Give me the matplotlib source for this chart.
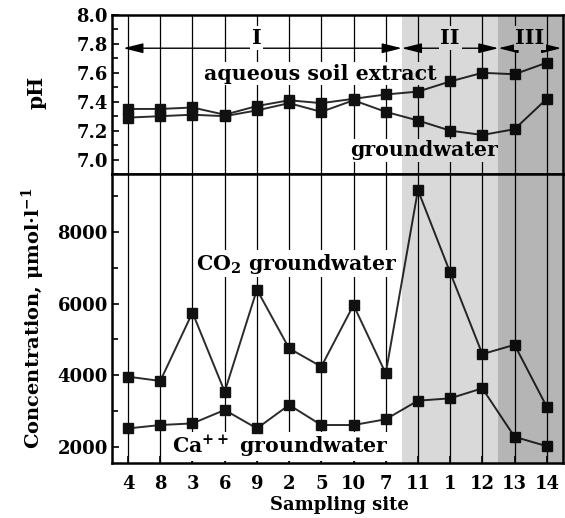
import matplotlib
matplotlib.use("Agg")
import matplotlib.pyplot as plt
import numpy as np

# Data
sites = ["4", "8", "3", "6", "9", "2", "5", "10", "7", "11", "1", "12", "13", "14"]
ph_soil = [7.35, 7.35, 7.36, 7.31, 7.37, 7.41, 7.39, 7.42, 7.45, 7.47, 7.54, 7.60, 7.59, 7.67]
ph_ground = [7.29, 7.30, 7.31, 7.30, 7.34, 7.39, 7.33, 7.41, 7.33, 7.27, 7.20, 7.17, 7.21, 7.42]
co2_ground = [3960, 3840, 5750, 3540, 6390, 4750, 4240, 5960, 4050, 9170, 6870, 4590, 4850, 3120]
ca_ground = [2515, 2610, 2655, 3030, 2515, 3170, 2610, 2610, 2770, 3290, 3355, 3635, 2280, 2020]
zones = ["I", "II", "III"]
zone_edges = [-0.5, 8.5, 11.5, 13.5]

plt.rcParams['font.family'] = 'DejaVu Serif'
plt.rcParams['font.weight'] = 'bold'
plt.rcParams['mathtext.fontset'] = 'custom'
plt.rcParams['mathtext.rm'] = 'DejaVu Serif:bold'
plt.rcParams['mathtext.bf'] = 'DejaVu Serif:bold'
plt.rcParams['mathtext.it'] = 'DejaVu Serif:bold'
plt.rcParams['mathtext.default'] = 'rm'

x = np.arange(len(sites))

fig = plt.figure(figsize=(5.65, 5.18), dpi=100)
ax1 = fig.add_axes([0.1982, 0.6641, 0.798, 0.307])
ax2 = fig.add_axes([0.1982, 0.1062, 0.798, 0.558], sharex=ax1)

line_kw = dict(color='#2b2b2b', lw=1.4, marker='s', ms=7.5, mfc='#111111', mec='#111111', zorder=4)
txt_kw = dict(fontsize=14.8, fontweight='bold', zorder=3,
              bbox=dict(boxstyle='square,pad=0.08', fc='white', ec='none'))

for ax in (ax1, ax2):
    for xi in x:
        ax.axvline(xi, color='black', lw=0.9, zorder=1)
    # shading drawn as translucent overlay so it also covers text boxes
    ax.axvspan(zone_edges[1], zone_edges[2], color='black', alpha=0.15, lw=0, zorder=5)
    ax.axvspan(zone_edges[2], zone_edges[3], color='black', alpha=0.29, lw=0, zorder=5)
    for s in ax.spines.values():
        s.set_linewidth(1.8)
        s.set_zorder(6)
    ax.tick_params(direction='in', length=5, width=1.2, labelsize=13, pad=3)
    ax.tick_params(which='minor', direction='in', length=4, width=1.2)

# pH panel
ax1.plot(x, ph_soil, **line_kw)
ax1.plot(x, ph_ground, **line_kw)
ax1.set_xlim(-0.5, 13.5)
ax1.set_ylim(6.947, 8.0)
ax1.set_yticks(np.arange(7.0, 8.01, 0.2))
ax1.set_yticks(np.arange(6.9, 8.0, 0.1), minor=True)
ax1.yaxis.set_major_formatter(matplotlib.ticker.FormatStrFormatter('%.1f'))
ax1.tick_params(axis='x', bottom=False, labelbottom=False)

arrow_y = 7.77
starts = [-0.15, zone_edges[1], zone_edges[2]]
ends = [zone_edges[1], zone_edges[2], 13.45]
for name, a, b in zip(zones, starts, ends):
    ax1.annotate('', xy=(b, arrow_y), xytext=(a, arrow_y),
                 arrowprops=dict(arrowstyle='<|-|>,head_length=0.6,head_width=0.15',
                                 color='black', lw=1.0, shrinkA=0, shrinkB=0,
                                 mutation_scale=20), zorder=3)
    ax1.text((a + b) / 2 if name != "I" else 4.0, 7.80, name, ha='center', va='baseline', **txt_kw)

ax1.text(5.96, 7.552, "aqueous soil extract", ha='center', va='baseline', **txt_kw)
ax1.text(9.2, 7.022, "groundwater", ha='center', va='baseline', **txt_kw)

# concentration panel
ax2.plot(x, co2_ground, **line_kw)
ax2.plot(x, ca_ground, **line_kw)
ax2.set_ylim(1550, 9620)
ax2.set_yticks([2000, 4000, 6000, 8000])
ax2.set_yticks(np.arange(3000, 9600, 2000), minor=True)
ax2.set_xticks(x)
ax2.set_xticklabels(sites)
ax2.tick_params(axis='x', pad=9)

ax2.text(5.24, 6950, r"CO$_2$ groundwater", ha='center', va='baseline', **txt_kw)
ax2.text(4.72, 1830, r"Ca$^{++}$ groundwater", ha='center', va='baseline', **txt_kw)

fig.text(0.064, 0.822, "pH", rotation=90, ha='center', va='center', fontsize=14.5, fontweight='bold')
fig.text(0.060, 0.386, r"Concentration, μmol·l$^{-1}$", rotation=90, ha='center', va='center',
         fontsize=14, fontweight='bold')
fig.text(0.600, 0.025, "Sampling site", ha='center', va='center', fontsize=13, fontweight='bold')

fig.savefig("out.png", dpi=100)
